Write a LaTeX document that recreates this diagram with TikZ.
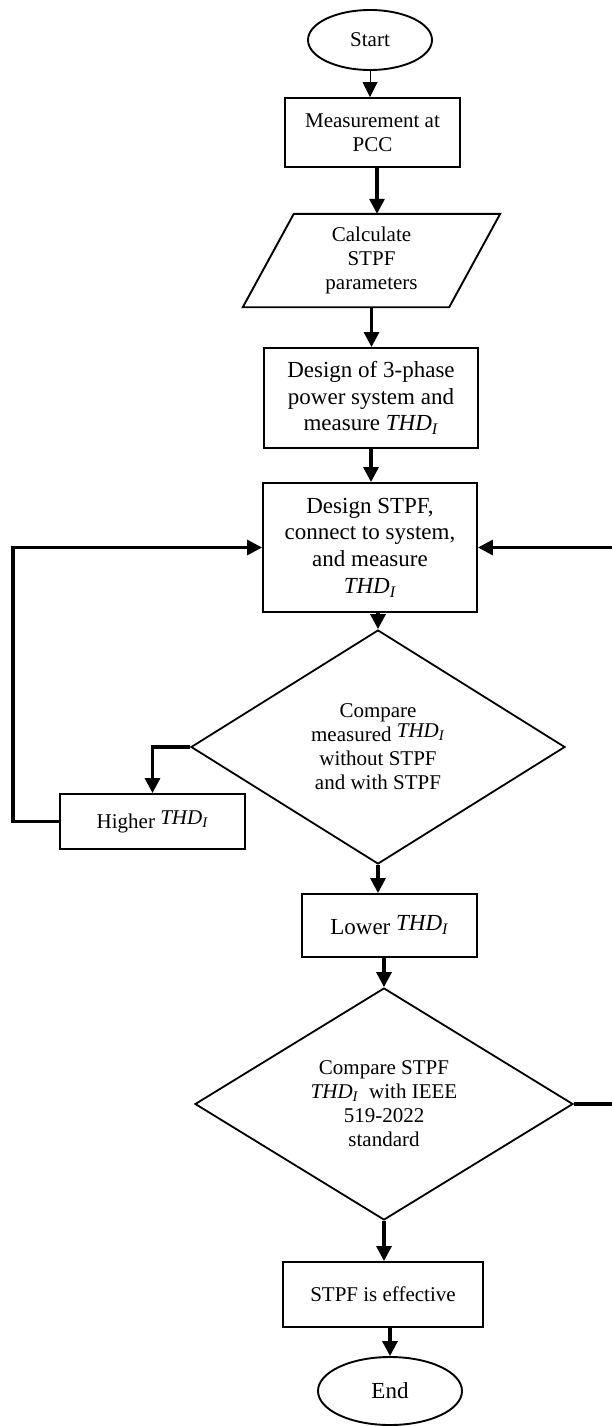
\documentclass[tikz,border=0pt]{standalone}
\usepackage{fontspec}
\setmainfont{Liberation Serif}
\usetikzlibrary{shapes.geometric,arrows.meta,calc}
\newcommand{\thd}{\textit{THD}\textsubscript{\textit{I}}}
\newcommand{\smallf}{\fontsize{21pt}{24pt}\selectfont}
\newcommand{\largef}{\fontsize{23pt}{26.7pt}\selectfont}
\begin{document}
\begin{tikzpicture}[x=1pt,y=-1pt,
  box/.style={draw, line width=1.9pt, rectangle, inner sep=0pt, align=center},
  term/.style={draw, line width=1.9pt, ellipse, inner sep=0pt, align=center},
  dec/.style={draw, line width=1.8pt, diamond, aspect=1.6, inner sep=0pt, align=center, font=\smallf},
  conn/.style={line width=3.2pt, -{Triangle[length=15pt,width=15pt]}},
  thinconn/.style={line width=0.8pt, -{Triangle[length=15pt,width=15pt]}},
  loopline/.style={line width=3.2pt}
]
\fill[white] (0,0) rectangle (611,1426);
\useasboundingbox (0,0) rectangle (611,1426);

\node[term, font=\smallf, minimum width=124pt, minimum height=60pt] (start) at (370,40) {Start};
\node[box, font=\smallf, minimum width=175pt, minimum height=69pt] (meas) at (372.5,132.5) {Measurement at\\PCC};
\node[inner sep=0pt, align=center, font=\smallf, minimum width=206pt, minimum height=93pt] (para) at (371.5,260.5) {Calculate\\STPF\\parameters};
\draw[line width=1.9pt] ([xshift=25.5pt]para.north west) -- ([xshift=25.5pt]para.north east) -- ([xshift=-25.5pt]para.south east) -- ([xshift=-25.5pt]para.south west) -- cycle;
\node[box, font=\largef, minimum width=214pt, minimum height=100pt] (des3) at (371,398) {Design of 3-phase\\power system and\\measure \thd};
\node[box, font=\largef, minimum width=214pt, minimum height=129pt] (stpf) at (370,547.5) {Design STPF,\\connect to system,\\and measure\\\thd};
\node[dec, minimum width=374pt, minimum height=234pt] (dec1) at (378,747) {Compare\\measured \raisebox{4pt}{\thd}\\without STPF\\and with STPF};
\node[box, font=\smallf, minimum width=185pt, minimum height=55pt] (high) at (152.5,821.5) {Higher \raisebox{4pt}{\thd}};
\node[box, font=\largef, minimum width=175pt, minimum height=63pt] (low) at (389.5,925.5) {Lower \raisebox{4pt}{\thd}};
\node[dec, minimum width=378pt, minimum height=232pt] (dec2) at (384,1104) {Compare STPF\\\thd\ \ with IEEE\\519-2022\\standard};
\node[box, font=\smallf, minimum width=200pt, minimum height=65pt] (eff) at (383,1294.5) {STPF is effective};
\node[term, font=\largef, minimum width=144pt, minimum height=68pt] (end) at (390,1391) {End};

\draw[thinconn] (start.south) -- (start.south |- meas.north);
\draw[conn] ([xshift=4.5pt]meas.south) -- ([xshift=4.5pt]meas.south |- para.north);
\draw[conn] (para.south) -- (para.south |- des3.north);
\draw[conn] (des3.south) -- (des3.south |- stpf.north);
\draw[conn] (stpf.south -| dec1.north) -- (dec1.north);
\draw[conn] (dec1.west) -| (high.north);
\draw[conn] (high.west) -- ++(-46,0) |- (stpf.west);
\draw[conn] (dec1.south) -- (dec1.south |- low.north);
\draw[conn] (low.south -| dec2.north) -- (dec2.north);
\draw[loopline] (dec2.east) -- ++(40,0) coordinate (rbot);
\path (stpf.east) ++(136,0) coordinate (rtop);
\draw[conn] (rtop) -- (stpf.east);
\draw[conn] (dec2.south) -- (dec2.south |- eff.north);
\draw[conn] (eff.south -| end.north) -- (end.north);
\end{tikzpicture}
\end{document}
